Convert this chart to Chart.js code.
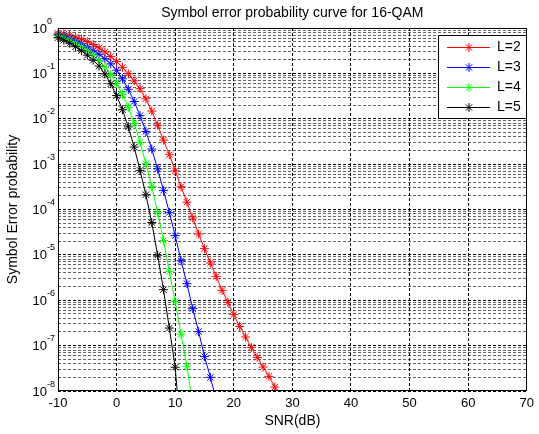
<!DOCTYPE html>
<html>
<head>
<meta charset="utf-8">
<script src="https://cdn.jsdelivr.net/npm/chart.js@4.4.0/dist/chart.umd.min.js"></script>
<style>
  html, body { margin: 0; padding: 0; background: #fff; }
</style>
</head>
<body>
<canvas id="serChart" width="539" height="434"></canvas>
<script>
// SNR in dB, one point per dB
var snr = [-10, -9, -8, -7, -6, -5, -4, -3, -2, -1, 0, 1, 2, 3, 4, 5, 6, 7, 8, 9,
  10, 11, 12, 13, 14, 15, 16, 17, 18, 19, 20, 21, 22, 23, 24, 25, 26, 27, 28];

// symbol error probability (last value of each just below 1e-8)
var serL2 = [0.767, 0.733, 0.687, 0.631, 0.569, 0.501, 0.432, 0.363, 0.297, 0.236,
  0.182, 0.136, 0.0977, 0.0684, 0.0459, 0.0275, 0.0148, 0.00724, 0.00339, 0.00161,
  7.16e-4, 3.18e-4, 1.45e-4, 6.5e-5, 2.88e-5, 1.37e-5, 6.62e-6, 3.36e-6, 1.65e-6, 8.97e-7,
  4.81e-7, 2.65e-7, 1.55e-7, 9.14e-8, 5.51e-8, 3.38e-8, 2.10e-8, 1.22e-8, 6.1e-9];
var serL3 = [0.711, 0.659, 0.596, 0.525, 0.451, 0.378, 0.316, 0.263, 0.211, 0.162,
  0.117, 0.0759, 0.0447, 0.0240, 0.0117, 0.00525, 0.00215, 7.82e-4, 2.64e-4, 8.63e-5,
  2.65e-5, 7.45e-6, 2.32e-6, 6.52e-7, 2.03e-7, 5.79e-8, 2.0e-8, 6.4e-9];
var serL4 = [0.676, 0.611, 0.538, 0.462, 0.387, 0.316, 0.252, 0.190, 0.138, 0.0933,
  0.0603, 0.0347, 0.0178, 0.00794, 0.00302, 0.00102, 3.23e-4, 8.71e-5, 2.08e-5, 4.33e-6,
  9.29e-7, 1.79e-7, 3.52e-8, 5.2e-9];
var serL5 = [0.611, 0.538, 0.462, 0.387, 0.316, 0.252, 0.195, 0.145, 0.0977, 0.0589,
  0.0324, 0.0158, 0.00661, 0.00238, 7.28e-4, 2.12e-4, 5.16e-5, 9.84e-6, 1.71e-6, 2.44e-7,
  3.34e-8, 1.0e-9];

var seriesLabels = ["L=2", "L=3", "L=4", "L=5"];
var seriesColors = ["#ff0000", "#0000ff", "#00ff00", "#000000"];

var xTicks = [-10, 0, 10, 20, 30, 40, 50, 60, 70];
var yExponents = [0, -1, -2, -3, -4, -5, -6, -7, -8];
var chartTitle = "Symbol error probability curve for 16-QAM";

var font = "'Liberation Sans', Arial, sans-serif";
Chart.defaults.font.family = font;
Chart.defaults.color = "#000";

// decade lines plus 2..9 minor lines, like a matlab log grid
var yGrid = [];
yExponents.forEach(function (e) {
  yGrid.push(Math.pow(10, e));
  if (e > -8) {
    for (var k = 2; k <= 9; k++) yGrid.push(k * Math.pow(10, e - 1));
  }
});

function isDecade(v) {
  var l = Math.log10(v);
  return Math.abs(l - Math.round(l)) < 1e-6;
}

function makeSeries(i, vals) {
  return {
    label: seriesLabels[i],
    data: vals.map(function (v, j) { return { x: snr[j], y: v }; }),
    borderColor: seriesColors[i],
    backgroundColor: seriesColors[i],
    borderWidth: 1,
    pointStyle: "star",
    pointRadius: 4.5,
    pointHoverRadius: 4.5,
    pointBorderWidth: 1,
    order: 4 - i,
    clip: { left: 6, top: 6, right: 0, bottom: 0 }
  };
}

function drawStar(c, x, y, r) {
  var d = r * Math.SQRT1_2;
  c.beginPath();
  c.moveTo(x - r, y); c.lineTo(x + r, y);
  c.moveTo(x, y - r); c.lineTo(x, y + r);
  c.moveTo(x - d, y - d); c.lineTo(x + d, y + d);
  c.moveTo(x - d, y + d); c.lineTo(x + d, y - d);
  c.stroke();
}

var matlabLook = {
  id: "matlabLook",
  afterDraw: function (chart) {
    var c = chart.ctx, a = chart.chartArea, ys = chart.scales.y;
    c.save();
    c.strokeStyle = "#000";
    c.lineWidth = 1;
    c.strokeRect(Math.round(a.left) + 0.5, Math.round(a.top) + 0.5,
      Math.round(a.right - a.left) - 1, Math.round(a.bottom - a.top) - 1);

    // title centred over the axes, as matlab does
    c.fillStyle = "#000";
    c.font = "14px " + font;
    c.textAlign = "center";
    c.textBaseline = "middle";
    c.fillText(chartTitle, (a.left + a.right) / 2, 13);

    // y tick labels as 10 with raised exponent
    yExponents.forEach(function (e) {
      var y = ys.getPixelForValue(Math.pow(10, e));
      c.font = "13px " + font;
      c.textAlign = "right";
      c.textBaseline = "middle";
      c.fillText("10", 47, y + 1);
      c.font = "9px " + font;
      c.textAlign = "left";
      c.textBaseline = "alphabetic";
      c.fillText(String(e), 47, y - 4.5);
    });

    // legend box
    c.fillStyle = "#fff";
    c.fillRect(438.5, 35.5, 88, 83);
    c.strokeStyle = "#000";
    c.strokeRect(438.5, 35.5, 88, 83);
    chart.data.datasets.forEach(function (ds, i) {
      var yy = 47.5 + i * 20;
      c.strokeStyle = ds.borderColor;
      c.beginPath();
      c.moveTo(447, yy);
      c.lineTo(490, yy);
      c.stroke();
      drawStar(c, 469, yy, 4.5);
      c.fillStyle = "#000";
      c.font = "14px " + font;
      c.textAlign = "left";
      c.textBaseline = "middle";
      c.fillText(ds.label, 497, yy);
    });
    c.restore();
  }
};

var ctx = document.getElementById("serChart").getContext("2d");
var serChart = new Chart(ctx, {
  type: "line",
  data: {
    datasets: [
      makeSeries(0, serL2),
      makeSeries(1, serL3),
      makeSeries(2, serL4),
      makeSeries(3, serL5)
    ]
  },
  options: {
    responsive: false,
    animation: false,
    events: [],
    layout: { padding: { left: 0, right: 10, top: 28, bottom: 0 } },
    plugins: {
      legend: { display: false },
      tooltip: { enabled: false },
      title: { display: false }
    },
    scales: {
      x: {
        type: "linear",
        min: -10,
        max: 70,
        afterBuildTicks: function (s) {
          s.ticks = xTicks.map(function (v) { return { value: v }; });
        },
        ticks: { padding: 5, font: { size: 13 }, maxRotation: 0, autoSkip: false },
        grid: { color: "#000", lineWidth: 1, drawTicks: false },
        border: { display: false, dash: [3, 2] },
        title: {
          display: true,
          text: "SNR(dB)",
          font: { size: 14 },
          padding: { top: 0, bottom: 4.5 }
        },
        afterFit: function (s) { s.height = 43; }
      },
      y: {
        type: "logarithmic",
        min: 1e-8,
        max: 1,
        afterBuildTicks: function (s) {
          s.ticks = yGrid.map(function (v) { return { value: v }; });
        },
        ticks: { callback: function () { return ""; }, autoSkip: false },
        grid: {
          color: function (c) {
            return isDecade(c.tick.value) ? "#000" : "rgba(0,0,0,0.6)";
          },
          lineWidth: 1,
          drawTicks: false
        },
        border: { display: false, dash: [3, 2] },
        title: {
          display: true,
          text: "Symbol Error probability",
          font: { size: 14 },
          padding: { top: 5, bottom: 0 }
        },
        afterFit: function (s) { s.width = 58; }
      }
    }
  },
  plugins: [matlabLook]
});
</script>
</body>
</html>
